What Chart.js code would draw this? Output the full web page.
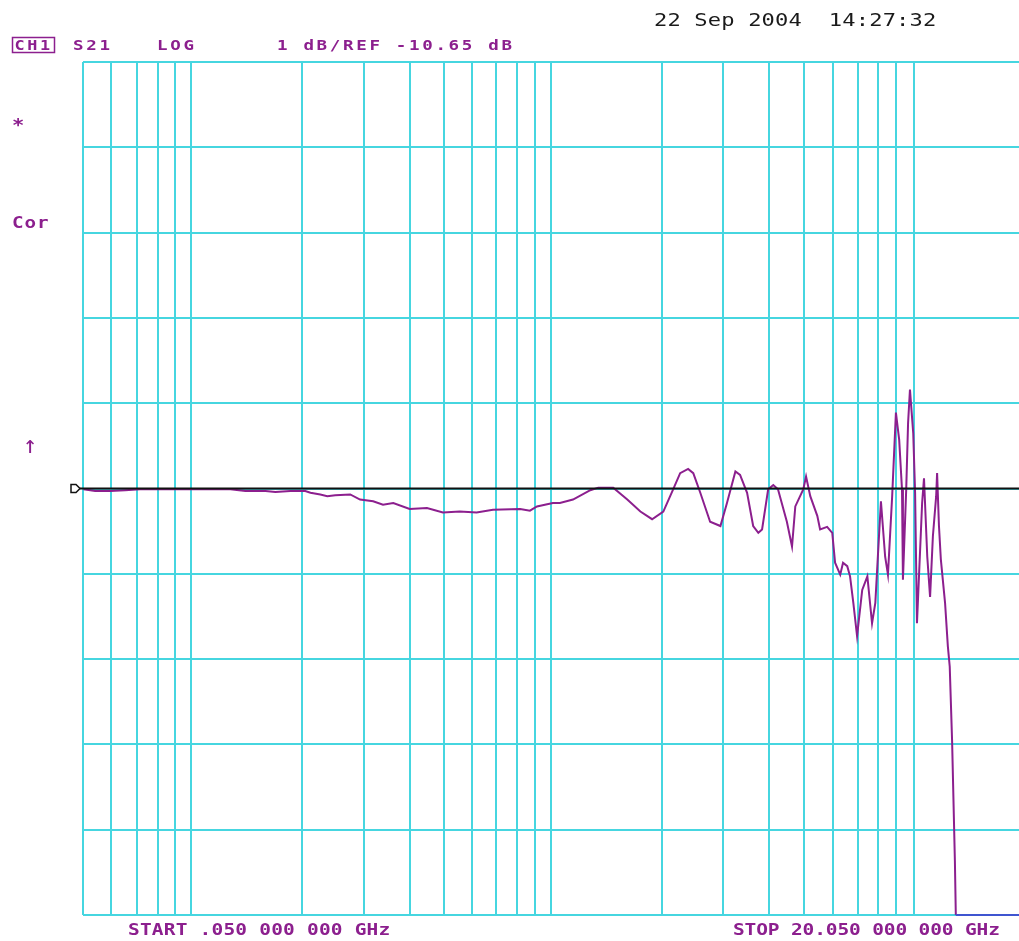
<!DOCTYPE html>
<html>
<head>
<meta charset="utf-8">
<script src="https://cdn.jsdelivr.net/npm/chart.js@4/dist/chart.umd.min.js"></script>
<style>
  body { margin: 0; background: #fff; }
  canvas { display: block; }
</style>
</head>
<body>
<canvas id="trace" width="1019" height="941"></canvas>
<script>
// S21 sweep, GHz / dB
const freqGHz = [0.06, 0.31, 0.63, 0.95, 1.27, 1.70, 2.14, 2.56, 3.20, 3.52, 3.95, 4.16, 4.48, 4.80, 4.91, 5.12, 5.27, 5.44, 5.76, 5.97,
  6.25, 6.46, 6.68, 7.03, 7.40, 7.74, 8.10, 8.46, 8.81, 9.39, 9.60, 9.75, 10.09, 10.24, 10.52, 10.89, 11.06, 11.38, 11.68, 11.96,
  12.21, 12.45, 12.66, 12.81, 12.98, 13.09, 13.24, 13.45, 13.67, 13.81, 13.99, 14.09, 14.24, 14.37, 14.48, 14.56, 14.69, 14.80, 14.90, 15.09,
  15.20, 15.27, 15.44, 15.50, 15.59, 15.74, 15.80, 15.95, 16.06, 16.12, 16.23, 16.29, 16.38, 16.44, 16.51, 16.59, 16.70, 16.81, 16.91, 16.98,
  17.04, 17.10, 17.19, 17.25, 17.34, 17.42, 17.49, 17.55, 17.57, 17.64, 17.68, 17.72, 17.79, 17.83, 17.87, 17.98, 18.02, 18.09, 18.15, 18.21,
  18.28, 18.30, 18.34, 18.38, 18.47, 18.53, 18.57, 18.62, 18.68, 18.70, 20.05]
const s21dB = [-10.66, -10.68, -10.68, -10.67, -10.66, -10.66, -10.66, -10.66, -10.66, -10.68, -10.68, -10.69, -10.68, -10.68, -10.70, -10.72, -10.74, -10.73, -10.72, -10.78,
  -10.80, -10.84, -10.82, -10.89, -10.88, -10.93, -10.92, -10.93, -10.90, -10.89, -10.91, -10.86, -10.82, -10.82, -10.78, -10.67, -10.64, -10.64, -10.78, -10.92,
  -11.01, -10.92, -10.66, -10.47, -10.42, -10.47, -10.70, -11.04, -11.09, -10.82, -10.45, -10.49, -10.70, -11.09, -11.17, -11.13, -10.66, -10.61, -10.66, -11.04,
  -11.33, -10.86, -10.66, -10.51, -10.74, -10.97, -11.13, -11.10, -11.17, -11.52, -11.66, -11.52, -11.56, -11.68, -11.99, -12.38, -11.84, -11.68, -12.23, -11.99,
  -11.39, -10.80, -11.45, -11.66, -10.74, -9.76, -10.08, -10.66, -11.72, -10.66, -9.88, -9.49, -10.00, -10.70, -12.23, -10.82, -10.53, -11.45, -11.92, -11.21,
  -10.74, -10.47, -11.09, -11.48, -11.99, -12.50, -12.74, -13.60, -15.01, -15.65, -15.65]

// vertical graticule lines (GHz)
const gridGHz = [0.05, 0.655, 1.21, 1.652, 2.007, 2.357, 4.728, 6.044, 7.027, 7.768, 8.359, 8.872, 9.321, 9.712, 10.053,
  12.418, 13.734, 14.716, 15.451, 16.083, 16.618, 17.032, 17.416, 17.814]

const startGHz = 0.05
const stopGHz = 20.05
const refLevel = -10.65
const dbPerDiv = 1
const divs = 10
const refDiv = 5

const yMin = refLevel - refDiv * dbPerDiv
const yMax = yMin + divs * dbPerDiv
const gridDb = []
for (let k = 0; k <= divs; k++) gridDb.push(yMin + k * dbPerDiv)

const CYAN = "#46d6e0"
const PURPLE = "#8c1f8e"
const MONO = "'DejaVu Sans Mono', 'Liberation Mono', monospace"

function spaced(ctx, str, x, y, font, pitch, sx, color) {
  ctx.save()
  ctx.font = font + " " + MONO
  ctx.fillStyle = color
  ctx.textBaseline = "alphabetic"
  for (let i = 0; i < str.length; i++) {
    ctx.save()
    ctx.translate(x + i * pitch, y)
    ctx.scale(sx, 1)
    ctx.fillText(str[i], 0, 0)
    ctx.restore()
  }
  ctx.restore()
}

const annotations = {
  id: "annotations",
  afterDatasetsDraw(chart) {
    const ctx = chart.ctx
    const yRef = chart.scales.y.getPixelForValue(refLevel)
    const area = chart.chartArea
    ctx.save()
    ctx.strokeStyle = "#111"
    ctx.lineWidth = 2
    ctx.beginPath()
    ctx.moveTo(area.left - 3, yRef)
    ctx.lineTo(area.right, yRef)
    ctx.stroke()
    // reference marker
    ctx.lineWidth = 1.5
    ctx.beginPath()
    ctx.moveTo(71, yRef - 4)
    ctx.lineTo(76, yRef - 4)
    ctx.lineTo(80, yRef)
    ctx.lineTo(76, yRef + 4)
    ctx.lineTo(71, yRef + 4)
    ctx.closePath()
    ctx.stroke()
    ctx.restore()
  },
  afterDraw(chart) {
    const ctx = chart.ctx
    ctx.save()
    ctx.strokeStyle = PURPLE
    ctx.lineWidth = 1.5
    ctx.strokeRect(12.5, 37.5, 42, 15)
    ctx.restore()
    spaced(ctx, "CH1", 14.5, 50, "bold 14px", 12.8, 1.2, PURPLE)
    spaced(ctx, "S21", 73, 50, "bold 14px", 13.2, 1.25, PURPLE)
    spaced(ctx, "LOG", 157, 50, "bold 14px", 13.2, 1.25, PURPLE)
    spaced(ctx, "1 dB/REF -10.65 dB", 277, 50, "bold 14px", 13.2, 1.25, PURPLE)
    spaced(ctx, "22 Sep 2004  14:27:32", 654, 26, "17px", 13.45, 1.3, "#1a1a1a")
    spaced(ctx, "*", 12, 131, "bold 17px", 13, 1.2, PURPLE)
    spaced(ctx, "Cor", 12, 228, "bold 16px", 12.5, 1.2, PURPLE)
    spaced(ctx, "\u2191", 23, 453, "24px", 13, 1.0, PURPLE)
    spaced(ctx, "START .050 000 000 GHz", 128, 935, "bold 15px", 11.93, 1.3, PURPLE)
    spaced(ctx, "STOP 20.050 000 000 GHz", 733, 935, "bold 15px", 11.6, 1.3, PURPLE)
  }
}

const points = freqGHz.map((f, i) => ({ x: f, y: s21dB[i] }))

new Chart(document.getElementById("trace"), {
  type: "line",
  data: {
    datasets: [{
      data: points,
      borderColor: PURPLE,
      borderWidth: 2,
      pointRadius: 0,
      tension: 0,
      clip: false,
      segment: {
        borderColor: c => (c.p0.parsed.y <= yMin + 0.01 && c.p1.parsed.y <= yMin + 0.01) ? "#3f55d0" : PURPLE
      }
    }]
  },
  options: {
    responsive: false,
    animation: false,
    devicePixelRatio: 1,
    layout: { padding: { left: 83, top: 62, right: 0, bottom: 26 } },
    plugins: { legend: { display: false }, tooltip: { enabled: false } },
    scales: {
      x: {
        type: "linear",
        min: startGHz,
        max: stopGHz,
        afterBuildTicks: axis => { axis.ticks = gridGHz.map(v => ({ value: v })) },
        ticks: { display: false },
        border: { display: false },
        grid: { color: CYAN, lineWidth: 2, drawTicks: false }
      },
      y: {
        type: "linear",
        min: yMin,
        max: yMax,
        afterBuildTicks: axis => { axis.ticks = gridDb.map(v => ({ value: v })) },
        ticks: { display: false },
        border: { display: false },
        grid: { color: CYAN, lineWidth: 2, drawTicks: false }
      }
    }
  },
  plugins: [annotations]
})
</script>
</body>
</html>
